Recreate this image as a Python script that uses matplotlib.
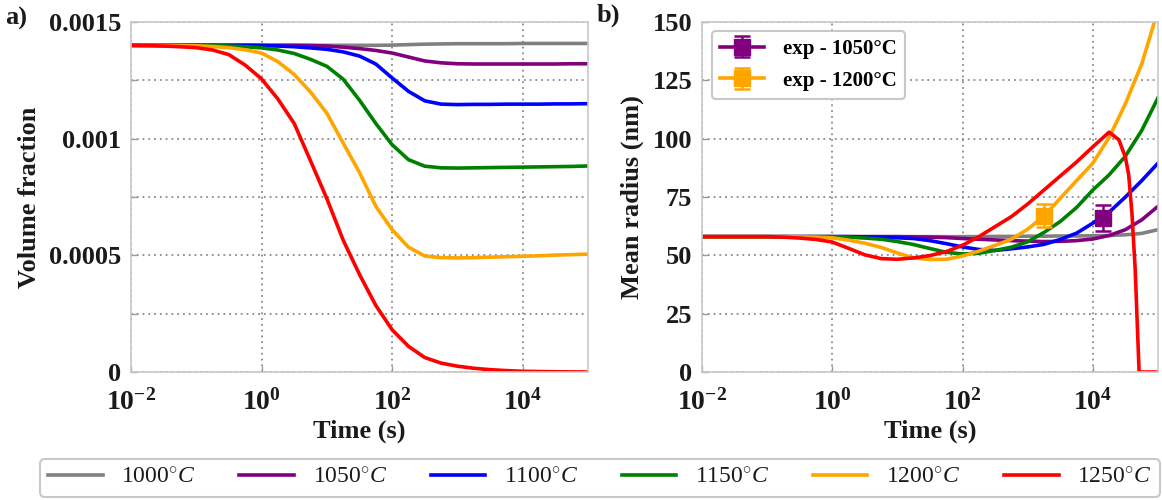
import numpy as np
import matplotlib
matplotlib.use("Agg")
import matplotlib.pyplot as plt
from matplotlib.ticker import FixedLocator, FixedFormatter, NullLocator

plt.rcParams['font.family'] = ['Liberation Serif', 'DejaVu Serif']
plt.rcParams['font.weight'] = 'bold'
plt.rcParams['mathtext.fontset'] = 'custom'
plt.rcParams['mathtext.rm'] = 'Liberation Serif:weight=normal'
plt.rcParams['mathtext.it'] = 'Liberation Serif:italic:weight=normal'
plt.rcParams['mathtext.bf'] = 'Liberation Serif:bold'

# ---------------- data ----------------
temperatures = ['1000', '1050', '1100', '1150', '1200', '1250']
colors = ['#808080', '#800080', '#0000ff', '#008000', '#ffa500', '#ff0000']

log_time = [-2.0, -1.75, -1.5, -1.25, -1.0, -0.75, -0.5, -0.25, 0.0, 0.25, 0.5, 0.75,
            1.0, 1.25, 1.5, 1.75, 2.0, 2.25, 2.5, 2.75, 3.0, 3.25, 3.5, 3.75, 4.0,
            4.25, 4.5, 4.75, 5.0]

# volume fraction (x 1e-3)
vf_1000 = [1.400] * 16 + [1.401, 1.403, 1.405, 1.406, 1.407, 1.407, 1.407, 1.407, 1.408,
                          1.408, 1.408, 1.408, 1.408]
vf_1050 = [1.400] * 11 + [1.399, 1.397, 1.392, 1.386, 1.378, 1.367, 1.350, 1.333, 1.325,
                          1.321, 1.320, 1.320, 1.320, 1.320, 1.320, 1.320, 1.321, 1.321]
vf_1100 = [1.400] * 8 + [1.399, 1.397, 1.394, 1.389, 1.383, 1.372, 1.354, 1.320, 1.260,
                         1.203, 1.162, 1.148, 1.146, 1.147, 1.147, 1.148, 1.148, 1.148,
                         1.149, 1.149, 1.150]
vf_1150 = [1.400] * 5 + [1.400, 1.397, 1.394, 1.389, 1.380, 1.365, 1.340, 1.310, 1.255,
                         1.165, 1.065, 0.974, 0.910, 0.882, 0.875, 0.874, 0.875, 0.876,
                         0.877, 0.878, 0.879, 0.880, 0.881, 0.883]
vf_1200 = [1.400, 1.400, 1.400, 1.399, 1.398, 1.395, 1.390, 1.381, 1.367, 1.330, 1.275,
           1.200, 1.109, 0.981, 0.855, 0.710, 0.610, 0.535, 0.497, 0.490, 0.489, 0.490,
           0.492, 0.494, 0.496, 0.498, 0.501, 0.503, 0.505]
vf_1250 = [1.400, 1.399, 1.397, 1.394, 1.390, 1.380, 1.360, 1.315, 1.256, 1.170, 1.065,
           0.905, 0.743, 0.565, 0.418, 0.285, 0.181, 0.110, 0.062, 0.038, 0.025, 0.016,
           0.010, 0.006, 0.003, 0.002, 0.001, 0.0005, 0.0]

# mean radius (nm)
r_1000 = [58.0] * 17 + [58.0, 58.1, 58.1, 58.2, 58.2, 58.3, 58.3, 58.4, 58.5, 58.8, 59.4, 61.0]
r_1050 = [58.0] * 13 + [57.9, 57.8, 57.6, 57.2, 56.9, 56.6, 56.3, 56.1, 55.9, 56.0, 56.3,
                        57.0, 58.5, 61.0, 65.2, 71.0]
r_1100 = [58.0] * 9 + [58.0, 57.9, 57.7, 57.5, 57.2, 56.3, 55.0, 53.6, 52.5, 52.1, 52.8,
                       53.6, 54.7, 56.8, 59.5, 63.8, 68.5, 75.0, 82.0, 89.5]
r_1150 = [58.0] * 8 + [58.0, 57.8, 57.4, 56.9, 55.9, 54.6, 52.9, 51.3, 50.6, 50.9, 52.1,
                       53.5, 55.8, 59.8, 64.5, 70.5, 78.0, 84.5, 92.5, 103.5, 117.5]
r_1200 = [58.0, 58.0, 58.0, 58.0, 58.0, 58.0, 57.9, 57.8, 57.5, 56.5, 55.2, 53.4, 51.0,
          48.9, 48.2, 48.3, 49.7, 51.8, 54.3, 56.9, 61.2, 66.8, 74.5, 82.0, 89.5, 100.5,
          115.0, 132.0, 155.0]
log_time_r1250 = log_time[:26] + [4.4, 4.5, 4.55, 4.6, 4.65, 4.71, 5.0]
r_1250 = [58.0, 58.0, 58.0, 58.0, 58.0, 57.8, 57.4, 56.8, 55.7, 53.0, 50.2, 48.6, 48.3,
          48.9, 49.9, 51.6, 54.3, 58.0, 62.3, 66.6, 72.0, 78.0, 84.0, 90.0, 96.5, 102.8,
          99.5, 92.0, 84.5, 68.0, 44.0, 0.0, 0.0]

# experimental points
exp_labels = ['exp - 1050°C', 'exp - 1200°C']
exp_colors = ['#800080', '#ffa500']
exp_time = [14400, 1800]
exp_radius = [66.0, 67.0]
exp_err = [5.5, 5.0]

vf_series = [vf_1000, vf_1050, vf_1100, vf_1150, vf_1200, vf_1250]
r_series = [r_1000, r_1050, r_1100, r_1150, r_1200, r_1250]
r_times = [log_time] * 5 + [log_time_r1250]

# ---------------- figure ----------------
fig = plt.figure(figsize=(11.62, 5.0), dpi=100)
ax1 = fig.add_axes([131 / 1162, 128 / 500, 457 / 1162, 350 / 500])
ax2 = fig.add_axes([702 / 1162, 128 / 500, 456 / 1162, 350 / 500])

t = 10 ** np.array(log_time)
handles = []
for temp, col, vf in zip(temperatures, colors, vf_series):
    h, = ax1.plot(t, np.array(vf) * 1e-3, color=col, lw=2.6,
                  label=r'$%s^{\circ}C$' % temp, solid_joinstyle='round')
    handles.append(h)

for col, lt, rr in zip(colors, r_times, r_series):
    ax2.plot(10 ** np.array(lt), rr, color=col, lw=2.6, solid_joinstyle='round')

exp_handles = []
for lab, col, et, er, ee in zip(exp_labels, exp_colors, exp_time, exp_radius, exp_err):
    h = ax2.errorbar([et], [er], yerr=[ee], fmt='s-', color=col, ms=11, lw=2.6,
                     capsize=6, capthick=1.8, elinewidth=1.8, label=lab, zorder=5)
    exp_handles.append(h)

grid_kw = dict(color='#8a8a8a', linestyle=(0, (1, 2.2)), linewidth=1.3)
for ax in (ax1, ax2):
    ax.set_xscale('log')
    ax.set_xlim(1e-2, 1e5)
    ax.xaxis.set_major_locator(FixedLocator([1e-2, 1e0, 1e2, 1e4]))
    ax.xaxis.set_major_formatter(FixedFormatter([r'$\mathbf{10^{-2}}$', r'$\mathbf{10^{0}}$',
                                                 r'$\mathbf{10^{2}}$', r'$\mathbf{10^{4}}$']))
    ax.xaxis.set_minor_locator(NullLocator())
    ax.grid(True, which='major', **grid_kw)
    ax.tick_params(direction='in', length=4, width=1, color='#9a9a9a', labelsize=19,
                   pad=7, labelcolor='#1a1a1a')
    ax.tick_params(axis='x', labelsize=20, pad=12)
    for s in ax.spines.values():
        s.set_color('#c8c8c8')
        s.set_linewidth(1.2)
    ax.set_xlabel('Time (s)', fontsize=19, fontweight='bold', color='#1a1a1a', labelpad=3)

ax1.set_ylim(0, 0.0015)
ax1.yaxis.set_major_locator(FixedLocator([0, 0.00025, 0.0005, 0.00075, 0.001, 0.00125, 0.0015]))
ax1.yaxis.set_major_formatter(FixedFormatter(['0', '', '0.0005', '', '0.001', '', '0.0015']))
ax1.set_ylabel('Volume fraction', fontsize=19, fontweight='bold', color='#1a1a1a', labelpad=6)

ax2.set_ylim(0, 150)
ax2.yaxis.set_major_locator(FixedLocator([0, 25, 50, 75, 100, 125, 150]))
ax2.set_ylabel('Mean radius (nm)', fontsize=19, fontweight='bold', color='#1a1a1a', labelpad=6)

leg2 = ax2.legend(handles=exp_handles, loc='upper left', bbox_to_anchor=(0.022, 0.975),
                  borderaxespad=0, fontsize=15, frameon=True, fancybox=True,
                  edgecolor='#c8c8c8', framealpha=1, handlelength=2.1, handletextpad=0.9,
                  borderpad=0.4, labelspacing=0.55)
for txt in leg2.get_texts():
    txt.set_fontweight('bold')
leg2.get_frame().set_linewidth(1.5)

leg = fig.legend(handles=handles, loc='lower left', bbox_to_anchor=(40 / 1162, 3 / 500, 1120 / 1162, 41 / 500),
                 mode='expand', ncol=6, fontsize=17, frameon=True, fancybox=True,
                 edgecolor='#c8c8c8', framealpha=1, handlelength=2.3, handletextpad=0.8,
                 borderaxespad=0, borderpad=0.35)
leg.get_frame().set_linewidth(1.5)
for txt in leg.get_texts():
    txt.set_color('#1a1a1a')
    txt.set_fontweight('normal')

fig.text(5 / 1162, 1 - 18 / 500, 'a)', fontsize=19, fontweight='bold', va='center', ha='left', color='#1a1a1a')
fig.text(597 / 1162, 1 - 15 / 500, 'b)', fontsize=19, fontweight='bold', va='center', ha='left', color='#1a1a1a')

fig.savefig('out.png', dpi=100)
